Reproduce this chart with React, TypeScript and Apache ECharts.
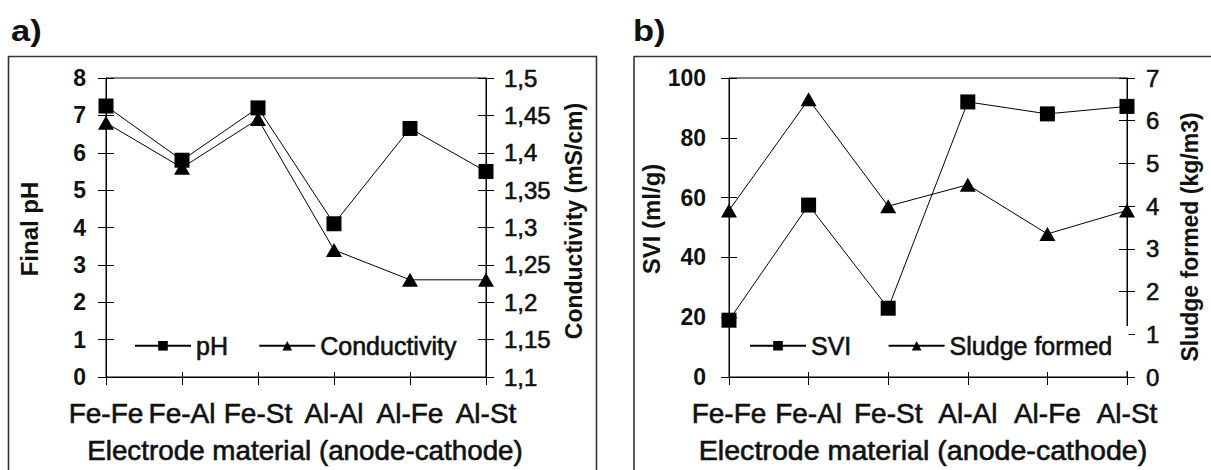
import React, { useEffect, useRef } from "react";
import * as echarts from "echarts";

const categories = ["Fe-Fe", "Fe-Al", "Fe-St", "Al-Al", "Al-Fe", "Al-St"];
const phValues = [7.25, 5.8, 7.2, 4.1, 6.65, 5.5];
const conductivityValues = [1.44, 1.38, 1.445, 1.27, 1.23, 1.23];
const sviValues = [19, 57.5, 23, 92, 88, 90.5];
const sludgeValues = [3.9, 6.5, 4.0, 4.5, 3.35, 3.9];
const panelLabels = ["a)", "b)"];
const leftTitles = ["Final pH", "SVI (ml/g)"];
const rightTitles = ["Conductivity (mS/cm)", "Sludge formed (kg/m3)"];
const xTitle = "Electrode material (anode-cathode)";

const FONT = "'Liberation Sans', Arial, Helvetica, sans-serif";
const NARROW = "'Liberation Sans Narrow', 'Arial Narrow', 'Liberation Sans', Arial, sans-serif";
const INK = "#111";
const THICK = { textBorderColor: INK, textBorderWidth: 0.6 };

const commaFmt = (v: number) => String(Number(v.toFixed(2))).replace(".", ",");

function catAxis(gridIndex: number, inside: boolean) {
  return {
    type: "category",
    gridIndex,
    data: categories,
    boundaryGap: false,
    position: "bottom",
    axisLine: { show: !inside, lineStyle: { color: "#000", width: 1 } },
    axisTick: { show: true, inside, length: inside ? 5 : 8, lineStyle: { color: "#000", width: 1 } },
    axisLabel: { show: !inside, margin: 22, fontSize: 28, color: INK, fontFamily: NARROW, interval: 0, ...THICK },
    splitLine: { show: false },
  };
}

function valAxis(
  gridIndex: number,
  position: string,
  min: number,
  max: number,
  interval: number,
  inside: boolean,
  opts: { bold?: boolean; margin?: number; comma?: boolean; size?: number } = {}
) {
  return {
    type: "value",
    gridIndex,
    position,
    min,
    max,
    interval,
    axisLine: { show: !inside, lineStyle: { color: "#000", width: 1 } },
    axisTick: { show: true, inside, length: 8, lineStyle: { color: "#000", width: 1 } },
    axisLabel: {
      show: !inside,
      margin: opts.margin ?? 20,
      fontSize: opts.size ?? 21,
      fontWeight: opts.bold ? "bold" : "normal",
      color: INK,
      fontFamily: FONT,
      ...(opts.bold ? {} : THICK),
      formatter: opts.comma ? (v: number) => commaFmt(v) : (v: number) => String(v),
    },
    splitLine: { show: false },
  };
}

function lineSeries(name: string, xi: number, yi: number, data: number[], tri: boolean) {
  return {
    type: "line",
    name,
    xAxisIndex: xi,
    yAxisIndex: yi,
    data,
    symbol: tri ? "triangle" : "rect",
    symbolSize: tri ? [16, 14] : 15,
    color: "#000",
    lineStyle: { color: "#000", width: 1 },
    itemStyle: { color: "#000" },
    z: tri ? 3 : 4,
  };
}

function vText(text: string, x: number, y: number, size: number) {
  return {
    type: "text",
    x,
    y,
    rotation: Math.PI / 2,
    z: 50,
    style: {
      text,
      fontSize: size,
      fontWeight: "bold",
      fontFamily: FONT,
      fill: INK,
      textAlign: "center",
      textVerticalAlign: "middle",
      align: "center",
      verticalAlign: "middle",
    },
  };
}

function hText(text: string, x: number, y: number, size: number, bold: boolean, scaleX = 1, align = "center") {
  return {
    type: "text",
    x,
    y,
    scaleX,
    z: 50,
    style: {
      text,
      fontSize: size,
      fontWeight: bold ? "bold" : "normal",
      fontFamily: FONT,
      fill: INK,
      textAlign: align,
      textVerticalAlign: "middle",
      align,
      verticalAlign: "middle",
      ...(bold ? {} : { stroke: INK, lineWidth: 0.6 }),
    },
  };
}

export default function App() {
  const ref = useRef<HTMLDivElement>(null);

  useEffect(() => {
    if (!ref.current) return;
    const chart = echarts.init(ref.current, undefined, { renderer: "svg" });
    const gridBase = { show: true, borderColor: "#000", borderWidth: 1, backgroundColor: "transparent" };
    const legendBase = {
      padding: 0,
      itemWidth: 56,
      itemHeight: 12,
      top: 333,
      textStyle: { fontSize: 25, color: INK, fontFamily: FONT, ...THICK },
    };
    chart.setOption({
      animation: false,
      backgroundColor: "#fff",
      grid: [
        { ...gridBase, left: 106, right: 725, top: 78, bottom: 93 },
        { ...gridBase, left: 729, right: 84, top: 78, bottom: 93 },
      ],
      xAxis: [catAxis(0, false), catAxis(0, true), catAxis(1, false), catAxis(1, true)],
      yAxis: [
        valAxis(0, "left", 0, 8, 1, false, { bold: true, margin: 20, size: 23 }),
        valAxis(0, "right", 1.1, 1.5, 0.05, false, { comma: true, margin: 18, size: 24 }),
        valAxis(0, "left", 0, 8, 1, true),
        valAxis(0, "right", 1.1, 1.5, 0.05, true),
        valAxis(1, "left", 0, 100, 20, false, { bold: true, margin: 23, size: 23 }),
        valAxis(1, "right", 0, 7, 1, false, { margin: 19, size: 24 }),
        valAxis(1, "left", 0, 100, 20, true),
        valAxis(1, "right", 0, 7, 1, true),
      ],
      legend: [
        { ...legendBase, left: 134, itemGap: 30, data: ["pH", "Conductivity"] },
        { ...legendBase, left: 749, itemGap: 36, data: ["SVI", "Sludge formed"] },
      ],
      series: [
        lineSeries("pH", 0, 0, phValues, false),
        lineSeries("Conductivity", 0, 1, conductivityValues, true),
        lineSeries("SVI", 2, 4, sviValues, false),
        lineSeries("Sludge formed", 2, 5, sludgeValues, true),
      ],
      graphic: [
        {
          type: "rect",
          z: 40,
          shape: { x: 8.5, y: 56.5, width: 588, height: 440 },
          style: { fill: "none", stroke: "#333", lineWidth: 1.6 },
        },
        {
          type: "rect",
          z: 40,
          shape: { x: 634, y: 56.5, width: 600, height: 440 },
          style: { fill: "none", stroke: "#333", lineWidth: 1.6 },
        },
        {
          type: "rect",
          z: 45,
          shape: { x: 1116, y: 326, width: 12.5, height: 45 },
          style: { fill: "#fff", stroke: "none" },
        },
        hText(panelLabels[0], 11, 31, 30, true, 1.15, "left"),
        hText(panelLabels[1], 633, 31, 30, true, 1.15, "left"),
        vText(leftTitles[0], 29, 229, 24),
        vText(rightTitles[0], 574, 221, 23),
        vText(leftTitles[1], 651, 219, 24),
        vText(rightTitles[1], 1190, 237, 23),
        hText(xTitle, 305, 451, 27, false, 1.03),
        hText(xTitle, 923, 451, 27, false, 1.06),
      ],
    });
    return () => chart.dispose();
  }, []);

  return (
    <div
      ref={ref}
      style={{ position: "fixed", left: 0, top: 0, width: 1211, height: 470, background: "#fff" }}
    />
  );
}
